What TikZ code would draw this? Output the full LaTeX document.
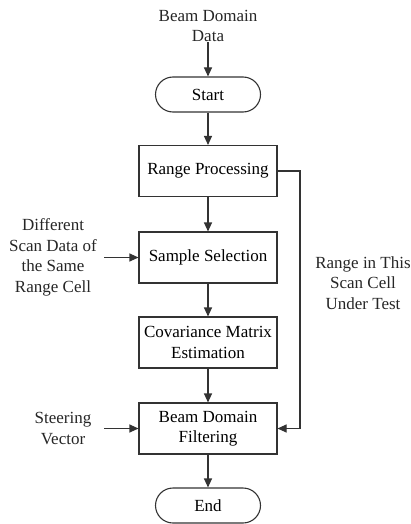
\documentclass[tikz,border=0pt]{standalone}
\usepackage{fontspec}
\setmainfont{Liberation Serif}
\usetikzlibrary{arrows.meta}
\begin{document}
\begin{tikzpicture}[x=1pt, y=-1pt, >={Triangle[length=9pt,width=8pt]},
	font=\fontsize{17}{20.5}\selectfont,
	line/.style={line width=1.1pt, draw=black!80},
	block/.style={draw=black!80, line width=1.1pt, rectangle, minimum width=138pt, minimum height=51pt, align=center, inner sep=2pt},
	term/.style={draw=black!80, line width=1.1pt, rectangle, rounded corners=17.5pt, minimum width=105pt, minimum height=35pt, inner sep=2pt},
	txt/.style={align=center, inner sep=0pt, text=black!85}]
	\useasboundingbox (0,0) rectangle (410,524);
	\path
		(208,26) node[txt] (data) {Beam Domain\\Data}
		(208,94.5) node[term] (start) {Start}
		(208,171) node[block] (range) {Range Processing}
		(208,257.5) node[block] (sample) {Sample Selection}
		(208,342.5) node[block] (cov) {Covariance Matrix\\Estimation}
		(208,428.5) node[block] (filter) {Beam Domain\\Filtering}
		(208,505.5) node[term] (end) {End}
		(53,257.5) node[txt] (scan) {Different\\Scan Data of\\the Same\\Range Cell}
		(63,428.5) node[txt] (steer) {Steering\\Vector}
		(363,283) node[txt] (cut) {Range in This\\Scan Cell\\Under Test}
		(300,171) coordinate (rtop)
		(300,428.5) coordinate (rbot)
		(104,257.5) coordinate (scanend)
		(104,428.5) coordinate (steerend)
	;

	\draw[line,->] (data) -- (start);
	\draw[line,->] (start) -- (range);
	\draw[line,->] (range) -- (sample);
	\draw[line,->] (sample) -- (cov);
	\draw[line,->] (cov) -- (filter);
	\draw[line,->] (filter) -- (end);
	\draw[line,->] (scanend) -- (sample);
	\draw[line,->] (steerend) -- (filter);
	\draw[line,->] (range) -- (rtop) -- (rbot) -- (filter);
\end{tikzpicture}
\end{document}
